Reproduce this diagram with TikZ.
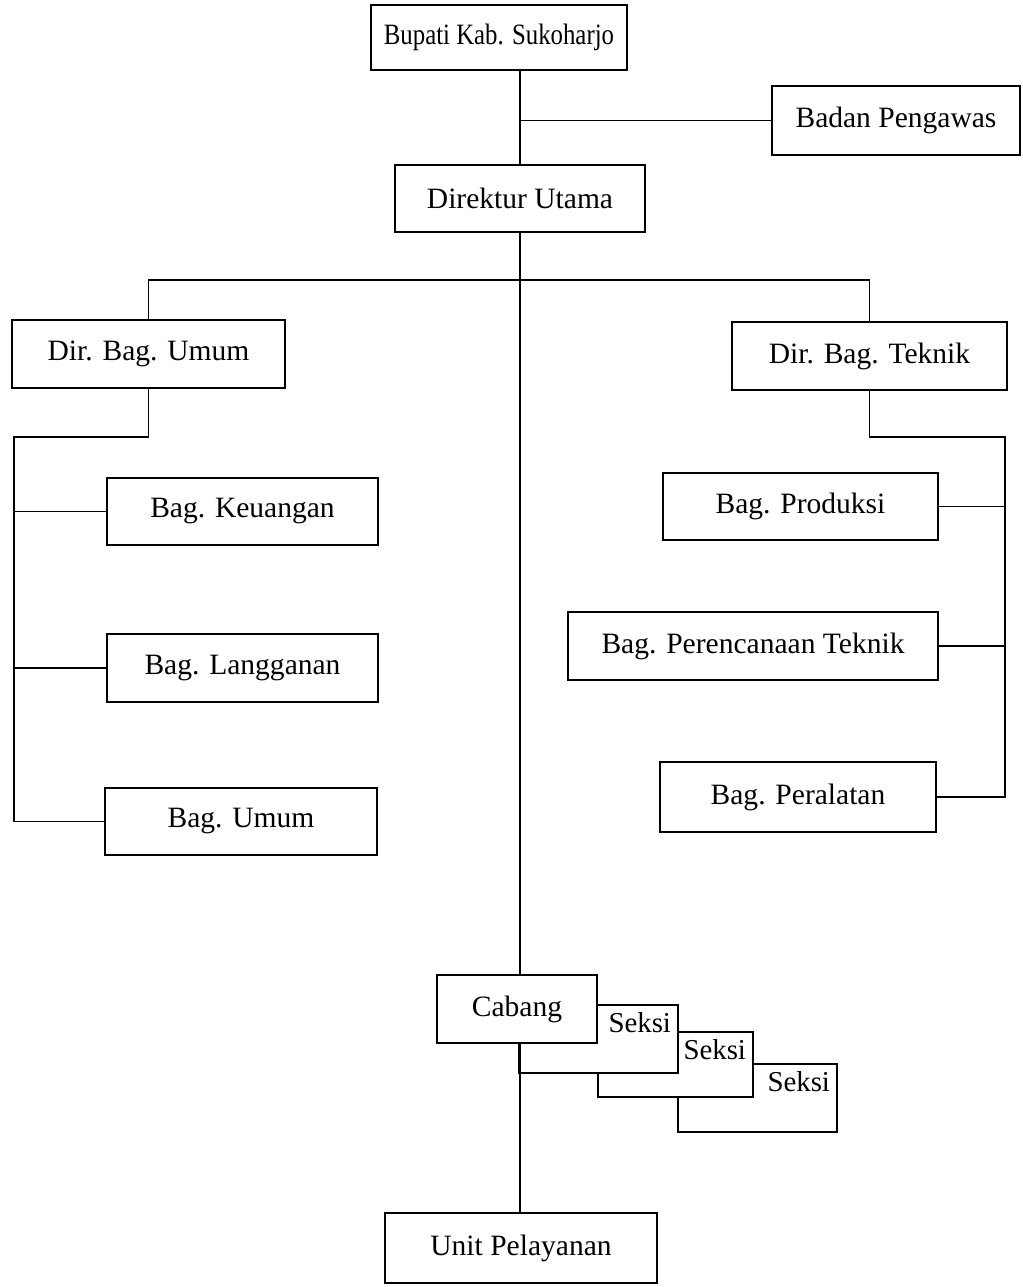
\documentclass[tikz,border=0pt]{standalone}
\usepackage{fontspec}
\setmainfont{Liberation Serif}
\newfontfamily\headfont[FakeStretch=0.84]{Liberation Serif}
\usetikzlibrary{positioning}

\begin{document}
\begin{tikzpicture}[x=0.025cm, y=-0.025cm,
  orgbox/.style={rectangle, draw, fill=white, minimum height=1.7cm,
    inner sep=2pt, font=\fontsize{21}{24}\selectfont},
  headbox/.style={orgbox, font=\headfont\fontsize{21}{24}\selectfont},
  seksibox/.style={orgbox, label={[anchor=north east, inner sep=5pt,
    font=\fontsize{20.5}{24}\selectfont]north east:Seksi}},
  line width=1.3pt
]
  \useasboundingbox (0,0) rectangle (1022,1287);

  \node[headbox, minimum width=6.4cm, minimum height=1.625cm] (bupati) at (499,37.5) {Bupati Kab. Sukoharjo};
  \node[orgbox, minimum width=6.2cm, minimum height=1.725cm] (badan) at (896,120.5) {Badan Pengawas};
  \node[orgbox, minimum width=6.25cm, minimum height=1.675cm] (direktur) at (520,198.5) {Direktur Utama};

  \node[orgbox, minimum width=6.825cm] (dirumum) at (148.5,354) {Dir. Bag. Umum};
  \node[orgbox, minimum width=6.875cm] (dirteknik) at (869.5,356) {Dir. Bag. Teknik};

  \node[orgbox, minimum width=6.775cm, minimum height=1.675cm] (keuangan) at (242.5,511.5) {Bag. Keuangan};
  \node[orgbox, minimum width=6.775cm] (langganan) at (242.5,668) {Bag. Langganan};
  \node[orgbox, minimum width=6.8cm, minimum height=1.675cm] (bagumum) at (241,821.5) {Bag. Umum};

  \node[orgbox, minimum width=6.875cm, minimum height=1.675cm] (produksi) at (800.5,506.5) {Bag. Produksi};
  \node[orgbox, minimum width=9.25cm] (perencanaan) at (753,646) {Bag. Perencanaan Teknik};
  \node[orgbox, minimum width=6.9cm, minimum height=1.75cm] (peralatan) at (798,797) {Bag. Peralatan};

  \node[seksibox, minimum width=3.975cm] (seksiC) at (757.5,1098) {};
  \node[seksibox, minimum width=3.875cm, minimum height=1.625cm] (seksiB) at (675.5,1064.5) {};
  \node[seksibox, minimum width=3.975cm] (seksiA) at (598.5,1039) {};
  \node[orgbox, minimum width=4cm] (cabang) at (517,1009) {Cabang};

  \node[orgbox, minimum width=6.8cm, minimum height=1.75cm] (unit) at (521,1248) {Unit Pelayanan};

  \coordinate (split) at (519,280);
  \coordinate (lspine) at (14,437);
  \coordinate (rspine) at (1005,437);

  \draw (bupati.south -| direktur.north) -- (direktur.north);
  \draw (direktur.north |- badan.west) -- (badan.west);
  \draw (direktur.south) -- (direktur.south |- cabang.north);
  \draw (dirumum.north) |- (split) -| (dirteknik.north);

  \draw (dirumum.south) |- (lspine) |- (bagumum.west);
  \draw (lspine |- keuangan.west) -- (keuangan.west);
  \draw (lspine |- langganan.west) -- (langganan.west);

  \draw (dirteknik.south) |- (rspine) |- (peralatan.east);
  \draw (rspine |- produksi.east) -- (produksi.east);
  \draw (rspine |- perencanaan.east) -- (perencanaan.east);

  \draw (direktur.south |- cabang.south) -- (direktur.south |- unit.north);
\end{tikzpicture}
\end{document}
